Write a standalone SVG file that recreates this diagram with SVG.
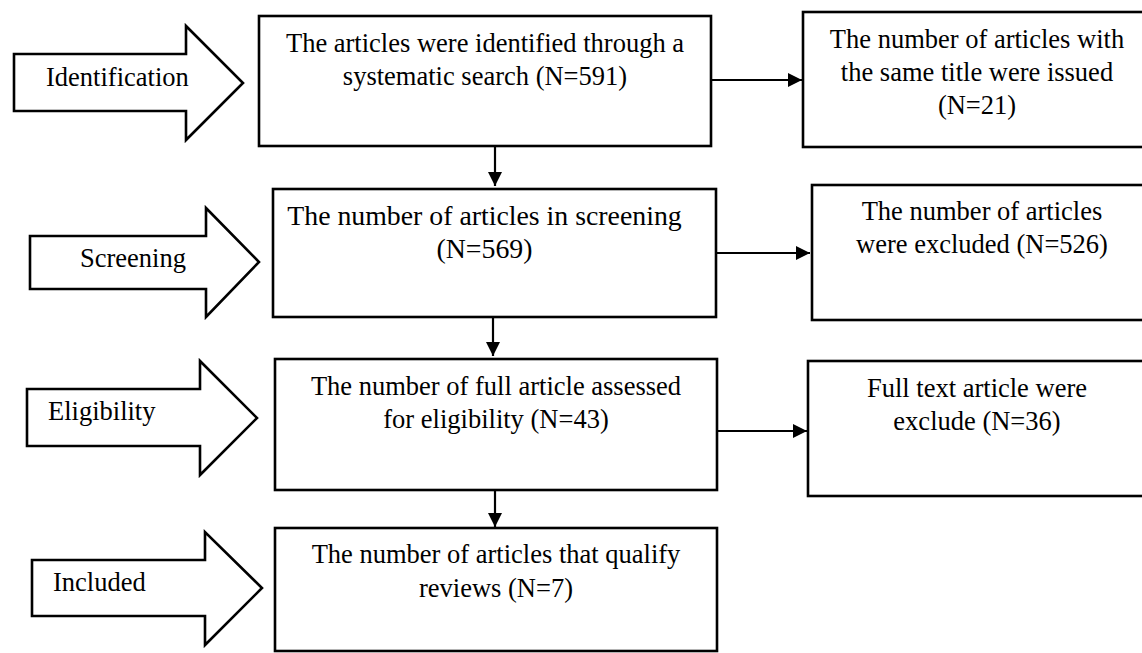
<svg xmlns="http://www.w3.org/2000/svg" width="1142" height="653" viewBox="0 0 1142 653">
<style>
text{font-family:"Liberation Serif","Times New Roman",serif;font-size:26.5px;fill:#000}
.c{text-anchor:middle}
.box{fill:#fff;stroke:#000;stroke-width:2.6}
.blk{fill:#fff;stroke:#000;stroke-width:2.6;stroke-linejoin:miter}
.con{stroke:#000;stroke-width:2.2;fill:none}
</style>
<defs>
<marker id="ah" viewBox="0 0 14 14" refX="14" refY="7" markerWidth="14" markerHeight="14" markerUnits="userSpaceOnUse" orient="auto">
<path d="M0,0 L14,7 L0,14 z" fill="#000"/>
</marker>
</defs>
<rect width="1142" height="653" fill="#fff"/>
<g id="stage-identification">
<polygon class="blk" points="14,54 186,54 186,26 243,83 186,140 186,111 14,111"/>
<text x="46" y="86">Identification</text>
</g>
<g id="stage-screening">
<polygon class="blk" points="30,236 206,236 206,208 259,262 206,317 206,289 30,289"/>
<text x="80" y="267">Screening</text>
</g>
<g id="stage-eligibility">
<polygon class="blk" points="27,389 200,389 200,361 257,418 200,475 200,446 27,446"/>
<text x="48" y="420">Eligibility</text>
</g>
<g id="stage-included">
<polygon class="blk" points="32,560 205,560 205,532 262,588 205,645 205,616 32,616"/>
<text x="53" y="591">Included</text>
</g>
<g id="box-identified">
<rect class="box" x="259" y="16" width="452" height="130"/>
<text class="c" x="485" y="52">The articles were identified through a</text>
<text class="c" x="485" y="85">systematic search (N=591)</text>
</g>
<g id="box-duplicates">
<rect class="box" x="803" y="12" width="350" height="135"/>
<text class="c" x="977" y="48">The number of articles with</text>
<text class="c" x="977" y="81">the same title were issued</text>
<text class="c" x="977" y="114">(N=21)</text>
</g>
<g id="box-screening">
<rect class="box" x="273" y="189" width="443" height="128"/>
<text class="c" x="484.5" y="225" style="font-size:27.8px">The number of articles in screening</text>
<text class="c" x="484.5" y="258" style="font-size:27.8px">(N=569)</text>
</g>
<g id="box-excluded">
<rect class="box" x="812" y="185" width="345" height="135"/>
<text class="c" x="982" y="220">The number of articles</text>
<text class="c" x="982" y="253">were excluded (N=526)</text>
</g>
<g id="box-eligibility">
<rect class="box" x="275" y="359" width="442" height="131"/>
<text class="c" x="496" y="395">The number of full article assessed</text>
<text class="c" x="496" y="428">for eligibility (N=43)</text>
</g>
<g id="box-fulltext-excluded">
<rect class="box" x="808" y="361" width="345" height="135"/>
<text class="c" x="977" y="397">Full text article were</text>
<text class="c" x="977" y="430">exclude (N=36)</text>
</g>
<g id="box-included">
<rect class="box" x="275" y="528" width="442" height="123"/>
<text class="c" x="496" y="563">The number of articles that qualify</text>
<text class="c" x="496" y="597">reviews (N=7)</text>
</g>
<g id="connectors">
<line class="con" x1="711" y1="80" x2="802" y2="80" marker-end="url(#ah)"/>
<line class="con" x1="495" y1="147" x2="495" y2="186" marker-end="url(#ah)"/>
<line class="con" x1="716" y1="253" x2="810" y2="253" marker-end="url(#ah)"/>
<line class="con" x1="493" y1="317" x2="493" y2="356" marker-end="url(#ah)"/>
<line class="con" x1="717" y1="431" x2="807" y2="431" marker-end="url(#ah)"/>
<line class="con" x1="495" y1="490" x2="495" y2="527" marker-end="url(#ah)"/>
</g>
</svg>
